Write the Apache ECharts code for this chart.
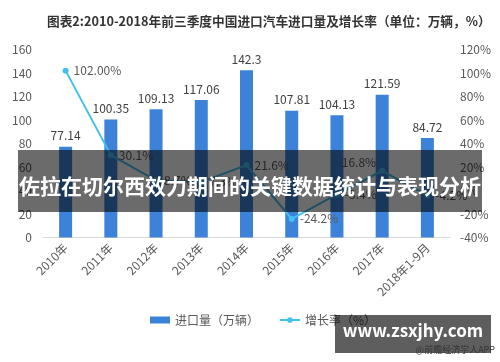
<!DOCTYPE html>
<html>
<head>
<meta charset="utf-8">
<script src="https://cdn.jsdelivr.net/npm/echarts@6/dist/echarts.min.js"></script>
<style>
html,body{margin:0;padding:0;background:#fff;}
#c{width:500px;height:362px;}
</style>
</head>
<body>
<div id="c"></div>
<script>
var categories = ['2010年','2011年','2012年','2013年','2014年','2015年','2016年','2017年','2018年1-9月'];
var importVolume = [77.14, 100.35, 109.13, 117.06, 142.3, 107.81, 104.13, 121.59, 84.72];
var growthRate = [102.00, 30.1, 8.7, 7.3, 21.6, -24.2, -3.4, 16.8, -4.2];
var leftTicks = {min: 0, max: 160, interval: 20};
var rightTicks = {min: -40, max: 120, interval: 20};
var titleText = '图表2:2010-2018年前三季度中国进口汽车进口量及增长率（单位：万辆，%）';
var overlayText = '佐拉在切尔西效力期间的关键数据统计与表现分析';
var siteText = 'www.zsxjhy.com';
var sourceText = '@前瞻经济学人APP';

var FONT = '"Noto Sans CJK SC", "Noto Sans", sans-serif';
var chart = echarts.init(document.getElementById('c'), null, {renderer: 'canvas'});

var growthData = growthRate.map(function (v, i) {
  var d = {value: v};
  if (i === 7) {
    d.label = {position: 'left', offset: [2, -8]};
  }
  return d;
});

chart.setOption({
  animation: false,
  textStyle: {fontFamily: FONT},
  title: {
    text: titleText,
    left: 42,
    top: 10,
    textStyle: {fontSize: 12.7, fontWeight: 'bold', color: '#333', fontFamily: FONT}
  },
  grid: {left: 43, right: 50, top: 49.5, bottom: 124.5, containLabel: false},
  legend: {
    bottom: 31,
    left: 145,
    itemWidth: 20,
    itemHeight: 7,
    itemGap: 20,
    textStyle: {fontSize: 12, color: '#595959', fontFamily: FONT},
    data: [{name: '进口量（万辆）', icon: 'rect'}, '增长率（%）']
  },
  xAxis: {
    type: 'category',
    data: categories,
    axisLine: {lineStyle: {color: '#d9d9d9'}},
    axisTick: {show: false},
    axisLabel: {rotate: 45, color: '#595959', fontSize: 12, margin: 8, interval: 0}
  },
  yAxis: [
    {
      type: 'value',
      min: leftTicks.min, max: leftTicks.max, interval: leftTicks.interval,
      axisLine: {show: false}, axisTick: {show: false},
      splitLine: {show: false},
      axisLabel: {color: '#595959', fontSize: 12, margin: 11}
    },
    {
      type: 'value',
      min: rightTicks.min, max: rightTicks.max, interval: rightTicks.interval,
      axisLine: {show: false}, axisTick: {show: false},
      splitLine: {show: false},
      axisLabel: {color: '#595959', fontSize: 12, margin: 10, formatter: '{value}%'}
    }
  ],
  series: [
    {
      name: '进口量（万辆）',
      type: 'bar',
      data: importVolume,
      barWidth: 13,
      itemStyle: {color: '#3c82d8'},
      label: {show: true, position: 'top', color: '#404040', fontSize: 12, distance: 5,
        formatter: function (p) { return String(p.value); }}
    },
    {
      name: '增长率（%）',
      type: 'line',
      yAxisIndex: 1,
      data: growthData,
      symbol: 'circle',
      symbolSize: 6,
      lineStyle: {color: '#45bff0', width: 2},
      itemStyle: {color: '#45bff0'},
      label: {show: true, position: 'right', color: '#595959', fontSize: 12, distance: 5,
        formatter: function (p) {
          return (p.dataIndex === 0 ? p.value.toFixed(2) : p.value.toFixed(1)) + '%';
        }}
    }
  ],
  graphic: [
    {type: 'rect', shape: {x: 18, y: 150, width: 464, height: 62}, style: {fill: 'rgba(0,0,0,0.58)'}, z: 100},
    {type: 'text', x: 250, y: 186, z: 101,
      style: {text: overlayText, fill: '#fff', font: 'bold 21px ' + FONT, textAlign: 'center', textVerticalAlign: 'middle'}},
    {type: 'rect', shape: {x: 335, y: 315, width: 156, height: 38}, style: {fill: 'rgba(0,0,0,0.63)'}, z: 100},
    {type: 'text', x: 413, y: 331, z: 101,
      style: {text: siteText, fill: '#fff', font: 'bold 17px ' + FONT, textAlign: 'center', textVerticalAlign: 'middle'}},
    {type: 'text', x: 495, y: 350, z: 102,
      style: {text: sourceText, fill: '#333', font: '9px ' + FONT, textAlign: 'right', textVerticalAlign: 'middle'}}
  ]
});
</script>
</body>
</html>
